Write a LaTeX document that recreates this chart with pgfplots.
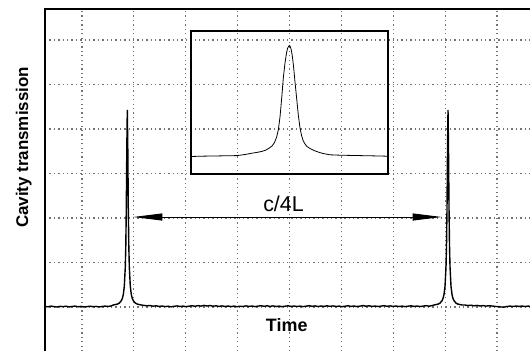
\documentclass[border=0pt]{standalone}
\usepackage{pgfplots}
\pgfplotsset{compat=1.18}
\usetikzlibrary{arrows.meta}
\usepackage{fontspec}
\setmainfont{Liberation Sans}
\begin{document}
\begin{tikzpicture}[x=1bp,y=1bp]
\useasboundingbox (0,0) rectangle (530,350);
\clip (0,0) rectangle (530,350);
\begin{axis}[
  at={(45,-10)}, anchor=south west,
  scale only axis, width=495bp, height=351bp,
  xmin=45, xmax=540, ymin=-10, ymax=341,
  xtick={82,133.9,185.75,237.6,289.5,341.4,393.25,445.1,497},
  ytick={43,87.5,132,176.5,221,265.5,310},
  xticklabels={}, yticklabels={},
  major tick length=0pt,
  grid=major,
  major grid style={draw=black!55, line width=1.1bp, dash pattern=on 1.3bp off 3.1bp},
  axis line style={line width=2.3bp, black},
]
% main trace
\addplot[black, line width=1.4bp] coordinates {
(45,43.6) (48,43.2) (51,43.9) (54,43.4) (57,43.0) (60,43.7) (63,43.3) (66,43.8) (69,43.1) (72,43.5)
(75,43.9) (78,43.2) (81,43.6) (84,43.0) (87,43.4) (90,43.8) (93,43.3) (96,43.6) (99,43.1) (102,43.5)
(105,43.9) (108,43.6) (111,44.0)
(113.3,45) (117.3,45.9) (119.3,46.9) (121.3,49.3) (122.3,51.5) (123.3,55.5) (124.3,63.6) (125.3,83.2)
(125.8,104.3) (126.3,142) (126.8,200.8) (127.3,240) (127.8,200.8) (128.3,142) (128.8,104.3) (129.3,83.2)
(130.3,63.6) (131.3,55.5) (132.3,51.5) (133.3,49.3) (135.3,46.9) (137.3,45.9) (141.3,45)
(144,44.6) (147,44.2) (150,44.5) (153,43.8) (156,44.2) (159,43.6) (162,44.0) (165,43.4) (168,43.8)
(171,43.2) (174,43.7) (177,44.1) (180,43.5) (183,43.9) (186,43.3) (189,43.8) (192,44.3) (195,43.7)
(198,44.4) (201,43.9) (204,44.6) (207,44.0) (210,44.5) (213,43.8) (216,44.2) (219,43.6) (222,44.1)
(225,43.5) (228,44.0) (231,43.4) (234,43.9) (237,43.3) (240,43.8) (243,43.5) (246,44.1) (249,43.6)
(252,44.0) (255,43.4) (258,43.9) (261,44.3) (264,43.7) (267,44.2) (270,43.6) (273,44.1) (276,43.5)
(279,43.9) (282,43.3) (285,43.8) (288,44.2) (291,43.6) (294,44.0) (297,43.5) (300,43.9) (303,43.4)
(306,43.8) (309,44.3) (312,43.7) (315,44.1) (318,43.5) (321,44.0) (324,43.6) (327,44.2) (330,43.7)
(333,44.1) (336,43.5) (339,43.9) (342,43.3) (345,43.8) (348,44.2) (351,43.6) (354,44.0) (357,43.5)
(360,43.9) (363,44.4) (366,43.8) (369,44.2) (372,43.6) (375,44.0) (378,43.5) (381,43.9) (384,44.3)
(387,43.7) (390,44.1) (393,43.6) (396,44.0) (399,43.5) (402,43.9) (405,43.4) (408,43.8) (411,44.2)
(414,43.6) (417,44.0) (420,43.5) (423,43.9) (426,44.3) (429,43.8) (432,44.4)
(434,45) (438,45.9) (440,46.9) (442,49.3) (443,51.5) (444,55.5) (445,63.6) (446,83.2) (446.5,104.3)
(447,142) (447.5,200.8) (448,240) (448.5,200.8) (449,142) (449.5,104.3) (450,83.2) (451,63.6)
(452,55.5) (453,51.5) (454,49.3) (456,46.9) (458,45.9) (462,45)
(465,45.0) (468,44.5) (471,44.8) (474,44.2) (477,44.6) (480,44.0) (483,44.4) (486,43.9) (489,44.3)
(492,44.0) (495,43.6) (498,43.4) (501,43.0) (504,42.9) (507,43.5) (510,43.9) (513,43.5) (516,44.0)
(519,43.6) (522,44.0) (525,43.5) (528,43.9) (531,43.6)
};
% inset trace
\addplot[black, line width=0.8bp] coordinates {
(191.7,193.5) (200,193.8) (213,194.0) (225,194.2) (237,194.4) (245,195.5) (252,196.8) (258,197.8)
(262,198.6) (266,200.0) (269,201.8) (272,204.0) (274.5,207.5) (276.5,212.5) (278.3,220) (280,233)
(281.7,252) (283.3,272) (285,287) (286.5,297) (287.5,301.5) (288.5,303.5) (289.3,304.5) (290.2,303.5)
(291.2,300.5) (292.3,294) (293.5,284) (295,268) (296.7,251) (298.3,235) (300,222) (301.7,214)
(303.3,209) (305,206) (307,203.5) (310,201.5) (314,199.5) (318,198) (323,196.5) (330,195.2)
(340,194.8) (350,194.6) (360,194.4) (370,194.2) (380,194.0) (387,193.8)
};
\draw[black, line width=2.4bp] (axis cs:191,176) rectangle (axis cs:388,319);
\draw[black, line width=0.9bp, {Triangle[length=29bp,width=7bp]}-{Triangle[length=29bp,width=7bp]}]
  (axis cs:133.3,133) -- (axis cs:441.7,133);
\end{axis}
\node[rotate=90, anchor=base, font=\bfseries\fontsize{17}{20}\selectfont] at (28,202.5) {Cavity transmission};
\node[anchor=base, font=\bfseries\fontsize{18}{21}\selectfont] at (286.7,18.3) {Time};
\node[anchor=base, font=\fontsize{21.5}{24}\selectfont] at (283.5,138.3) {c/4L};
\end{tikzpicture}
\end{document}
